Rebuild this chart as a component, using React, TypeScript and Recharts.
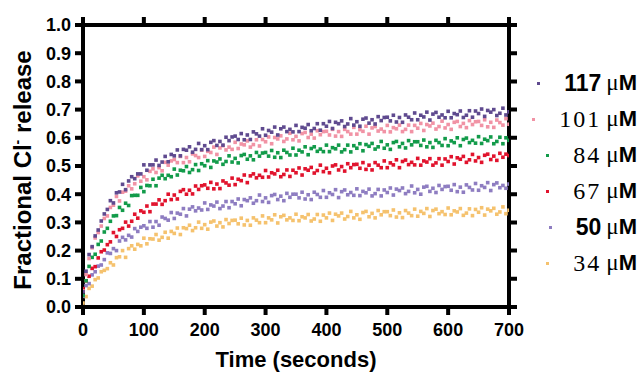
import React from "react";
import { Scatter, ScatterChart, XAxis, YAxis } from "recharts";

// sample times (s)
const times = [
  0, 5, 10, 15, 20, 25, 30, 35, 40, 45, 50, 55, 60, 65, 70, 75, 80, 85, 90, 95,
  100, 105, 110, 115, 120, 125, 130, 135, 140, 145, 150, 155, 160, 165, 170, 175, 180, 185, 190, 195,
  200, 205, 210, 215, 220, 225, 230, 235, 240, 245, 250, 255, 260, 265, 270, 275, 280, 285, 290, 295,
  300, 305, 310, 315, 320, 325, 330, 335, 340, 345, 350, 355, 360, 365, 370, 375, 380, 385, 390, 395,
  400, 405, 410, 415, 420, 425, 430, 435, 440, 445, 450, 455, 460, 465, 470, 475, 480, 485, 490, 495,
  500, 505, 510, 515, 520, 525, 530, 535, 540, 545, 550, 555, 560, 565, 570, 575, 580, 585, 590, 595,
  600, 605, 610, 615, 620, 625, 630, 635, 640, 645, 650, 655, 660, 665, 670, 675, 680, 685, 690, 695, 700,
];

const s117 = [
  0.054, 0.127, 0.186, 0.214, 0.252, 0.273, 0.305, 0.33, 0.346, 0.377,
  0.369, 0.405, 0.408, 0.435, 0.416, 0.447, 0.462, 0.455, 0.472, 0.472,
  0.504, 0.485, 0.504, 0.504, 0.521, 0.502, 0.514, 0.534, 0.515, 0.541,
  0.536, 0.557, 0.536, 0.559, 0.556, 0.568, 0.549, 0.559, 0.58, 0.558,
  0.572, 0.558, 0.584, 0.59, 0.573, 0.587, 0.574, 0.602, 0.59, 0.603,
  0.606, 0.594, 0.615, 0.593, 0.61, 0.594, 0.621, 0.614, 0.606, 0.632,
  0.609, 0.626, 0.62, 0.638, 0.61, 0.632, 0.638, 0.622, 0.63, 0.621,
  0.644, 0.622, 0.637, 0.634, 0.647, 0.625, 0.633, 0.65, 0.627, 0.65,
  0.641, 0.658, 0.633, 0.655, 0.65, 0.66, 0.64, 0.649, 0.668, 0.645,
  0.657, 0.641, 0.666, 0.67, 0.652, 0.664, 0.649, 0.675, 0.661, 0.672,
  0.673, 0.66, 0.68, 0.656, 0.672, 0.655, 0.681, 0.673, 0.664, 0.688,
  0.664, 0.68, 0.674, 0.691, 0.663, 0.684, 0.69, 0.673, 0.681, 0.671,
  0.694, 0.671, 0.686, 0.682, 0.695, 0.672, 0.68, 0.696, 0.673, 0.695,
  0.686, 0.702, 0.676, 0.697, 0.691, 0.7, 0.679, 0.687, 0.705, 0.681, 0.692,
];

const s101 = [
  0.057, 0.115, 0.172, 0.21, 0.245, 0.264, 0.287, 0.314, 0.323, 0.353,
  0.361, 0.392, 0.376, 0.407, 0.411, 0.43, 0.419, 0.437, 0.465, 0.446,
  0.462, 0.451, 0.481, 0.49, 0.477, 0.494, 0.483, 0.513, 0.503, 0.518,
  0.523, 0.512, 0.534, 0.512, 0.53, 0.515, 0.543, 0.537, 0.53, 0.556,
  0.534, 0.552, 0.548, 0.567, 0.541, 0.564, 0.572, 0.557, 0.567, 0.559,
  0.584, 0.562, 0.578, 0.575, 0.589, 0.567, 0.576, 0.593, 0.571, 0.594,
  0.586, 0.603, 0.579, 0.601, 0.596, 0.607, 0.587, 0.596, 0.616, 0.593,
  0.605, 0.589, 0.615, 0.619, 0.601, 0.613, 0.599, 0.625, 0.611, 0.622,
  0.623, 0.61, 0.63, 0.606, 0.622, 0.605, 0.63, 0.622, 0.613, 0.637,
  0.613, 0.629, 0.623, 0.641, 0.613, 0.635, 0.64, 0.624, 0.631, 0.622,
  0.644, 0.621, 0.636, 0.632, 0.645, 0.622, 0.63, 0.645, 0.622, 0.644,
  0.634, 0.651, 0.626, 0.647, 0.642, 0.652, 0.631, 0.64, 0.659, 0.635,
  0.647, 0.63, 0.655, 0.658, 0.64, 0.651, 0.636, 0.661, 0.647, 0.657,
  0.658, 0.644, 0.664, 0.639, 0.655, 0.637, 0.663, 0.654, 0.645, 0.668, 0.648,
];

const s84 = [
  0.041, 0.093, 0.144, 0.176, 0.187, 0.222, 0.234, 0.266, 0.279, 0.304,
  0.323, 0.324, 0.353, 0.343, 0.368, 0.36, 0.395, 0.396, 0.396, 0.424,
  0.409, 0.431, 0.43, 0.453, 0.43, 0.457, 0.467, 0.455, 0.467, 0.462,
  0.489, 0.468, 0.485, 0.483, 0.498, 0.477, 0.487, 0.505, 0.484, 0.508,
  0.501, 0.519, 0.495, 0.518, 0.514, 0.525, 0.506, 0.516, 0.536, 0.514,
  0.527, 0.511, 0.537, 0.541, 0.524, 0.536, 0.522, 0.548, 0.535, 0.546,
  0.548, 0.535, 0.555, 0.531, 0.547, 0.53, 0.556, 0.548, 0.539, 0.563,
  0.539, 0.556, 0.55, 0.568, 0.54, 0.562, 0.568, 0.552, 0.56, 0.551,
  0.574, 0.551, 0.565, 0.561, 0.574, 0.55, 0.558, 0.574, 0.55, 0.572,
  0.563, 0.579, 0.554, 0.576, 0.57, 0.58, 0.56, 0.568, 0.587, 0.563,
  0.575, 0.559, 0.583, 0.587, 0.568, 0.58, 0.564, 0.59, 0.575, 0.586,
  0.586, 0.573, 0.592, 0.568, 0.583, 0.566, 0.591, 0.583, 0.573, 0.597,
  0.572, 0.589, 0.583, 0.6, 0.572, 0.594, 0.599, 0.583, 0.591, 0.581,
  0.604, 0.58, 0.595, 0.59, 0.603, 0.579, 0.587, 0.602, 0.579, 0.6, 0.591,
];

const s67 = [
  0.065, 0.093, 0.109, 0.137, 0.143, 0.174, 0.196, 0.202, 0.221, 0.231,
  0.264, 0.25, 0.274, 0.279, 0.301, 0.287, 0.304, 0.329, 0.315, 0.341,
  0.336, 0.358, 0.338, 0.365, 0.365, 0.38, 0.364, 0.377, 0.4, 0.381,
  0.397, 0.383, 0.41, 0.416, 0.4, 0.414, 0.401, 0.429, 0.417, 0.43,
  0.433, 0.421, 0.442, 0.419, 0.436, 0.42, 0.447, 0.44, 0.432, 0.457,
  0.434, 0.453, 0.448, 0.468, 0.441, 0.465, 0.472, 0.458, 0.467, 0.46,
  0.484, 0.461, 0.476, 0.472, 0.485, 0.462, 0.47, 0.486, 0.463, 0.485,
  0.476, 0.493, 0.468, 0.49, 0.485, 0.495, 0.475, 0.484, 0.503, 0.48,
  0.492, 0.476, 0.5, 0.504, 0.486, 0.498, 0.482, 0.508, 0.494, 0.505,
  0.506, 0.492, 0.512, 0.488, 0.503, 0.486, 0.512, 0.503, 0.494, 0.518,
  0.494, 0.511, 0.504, 0.522, 0.494, 0.516, 0.521, 0.505, 0.513, 0.504,
  0.527, 0.503, 0.518, 0.514, 0.526, 0.503, 0.511, 0.526, 0.503, 0.525,
  0.516, 0.533, 0.507, 0.529, 0.524, 0.534, 0.513, 0.522, 0.541, 0.518,
  0.53, 0.513, 0.538, 0.542, 0.523, 0.535, 0.52, 0.545, 0.531, 0.542, 0.537,
];

const s50 = [
  0.038, 0.076, 0.083, 0.114, 0.125, 0.145, 0.149, 0.168, 0.192, 0.19,
  0.207, 0.2, 0.234, 0.247, 0.238, 0.254, 0.248, 0.278, 0.268, 0.283,
  0.288, 0.279, 0.303, 0.283, 0.303, 0.29, 0.319, 0.314, 0.308, 0.335,
  0.314, 0.333, 0.329, 0.349, 0.323, 0.347, 0.355, 0.341, 0.351, 0.344,
  0.369, 0.346, 0.362, 0.358, 0.372, 0.349, 0.358, 0.374, 0.352, 0.374,
  0.366, 0.383, 0.359, 0.381, 0.377, 0.387, 0.368, 0.377, 0.397, 0.374,
  0.387, 0.371, 0.395, 0.399, 0.381, 0.393, 0.377, 0.403, 0.389, 0.4,
  0.4, 0.387, 0.407, 0.383, 0.398, 0.381, 0.407, 0.399, 0.389, 0.413,
  0.389, 0.405, 0.399, 0.416, 0.388, 0.409, 0.415, 0.398, 0.406, 0.396,
  0.419, 0.395, 0.41, 0.405, 0.418, 0.394, 0.402, 0.417, 0.394, 0.415,
  0.406, 0.422, 0.397, 0.418, 0.413, 0.422, 0.402, 0.41, 0.429, 0.405,
  0.417, 0.4, 0.425, 0.428, 0.41, 0.421, 0.406, 0.431, 0.417, 0.427,
  0.428, 0.414, 0.434, 0.409, 0.425, 0.407, 0.433, 0.424, 0.415, 0.438,
  0.414, 0.43, 0.424, 0.441, 0.413, 0.434, 0.44, 0.423, 0.431, 0.421, 0.436,
];

const s34 = [
  0.014, 0.037, 0.066, 0.074, 0.097, 0.103, 0.125, 0.13, 0.136, 0.157,
  0.149, 0.175, 0.178, 0.2, 0.176, 0.207, 0.217, 0.205, 0.222, 0.217,
  0.244, 0.224, 0.242, 0.241, 0.257, 0.237, 0.247, 0.265, 0.244, 0.268,
  0.261, 0.28, 0.257, 0.281, 0.278, 0.29, 0.271, 0.281, 0.301, 0.279,
  0.292, 0.276, 0.301, 0.305, 0.287, 0.299, 0.284, 0.31, 0.296, 0.307,
  0.308, 0.295, 0.315, 0.291, 0.307, 0.29, 0.316, 0.308, 0.299, 0.323,
  0.299, 0.316, 0.309, 0.327, 0.298, 0.32, 0.325, 0.309, 0.316, 0.307,
  0.329, 0.306, 0.32, 0.316, 0.328, 0.305, 0.312, 0.328, 0.304, 0.326,
  0.316, 0.333, 0.307, 0.329, 0.323, 0.333, 0.312, 0.321, 0.339, 0.316,
  0.327, 0.311, 0.335, 0.339, 0.32, 0.332, 0.316, 0.342, 0.327, 0.338,
  0.338, 0.324, 0.344, 0.319, 0.334, 0.317, 0.342, 0.333, 0.324, 0.347,
  0.322, 0.339, 0.332, 0.349, 0.321, 0.342, 0.347, 0.331, 0.338, 0.328,
  0.351, 0.327, 0.341, 0.337, 0.349, 0.325, 0.333, 0.348, 0.324, 0.346,
  0.336, 0.352, 0.326, 0.347, 0.341, 0.35, 0.329, 0.337, 0.355, 0.331, 0.343,
];

const xTicks = [0, 100, 200, 300, 400, 500, 600, 700];
const yTicks = [0, 0.1, 0.2, 0.3, 0.4, 0.5, 0.6, 0.7, 0.8, 0.9, 1.0];

const SERIES = [
  { name: "34", values: s34, color: "#f5c26e", bold: false },
  { name: "50", values: s50, color: "#8e7dc1", bold: true },
  { name: "67", values: s67, color: "#e1132d", bold: false },
  { name: "84", values: s84, color: "#129b4a", bold: false },
  { name: "101", values: s101, color: "#f193a5", bold: false },
  { name: "117", values: s117, color: "#5f4a8f", bold: true },
];

const SANS = "'Liberation Sans', Arial, sans-serif";
const SERIF = "'Liberation Serif', 'Times New Roman', serif";

// plot box (px), shared by the chart margins and the frame edges
const BOX = { left: 83, top: 25, width: 426, height: 282 };
const W = 639;
const H = 375;

const Dot = (props: any) => {
  const { cx, cy, fill } = props;
  if (cx == null || cy == null) return <g />;
  return <rect x={cx - 1.8} y={cy - 1.8} width={3.6} height={3.6} fill={fill} />;
};

const tickStyle = { fontFamily: SANS, fontWeight: 700, fontSize: 18, fill: "#000" };
const axisLine = { stroke: "#000", strokeWidth: 4 };
const tickLine = { stroke: "#000", strokeWidth: 4 };

export default function App() {
  const legendRows = [...SERIES].reverse();
  const right = BOX.left + BOX.width;
  const bottom = BOX.top + BOX.height;
  return (
    <div style={{ position: "absolute", left: 0, top: 0, width: W, height: H, background: "#fff" }}>
      <ScatterChart
        width={W}
        height={H}
        margin={{ top: BOX.top, right: W - right, bottom: H - bottom - 30, left: BOX.left - 60 }}
      >
        <XAxis
          type="number"
          dataKey="x"
          domain={[0, 700]}
          ticks={xTicks}
          allowDataOverflow
          height={30}
          tickSize={8}
          tickMargin={8}
          axisLine={axisLine}
          tickLine={tickLine}
          tick={tickStyle}
        />
        <YAxis
          type="number"
          dataKey="y"
          domain={[0, 1]}
          ticks={yTicks}
          allowDataOverflow
          width={60}
          tickSize={8}
          tickMargin={4}
          axisLine={axisLine}
          tickLine={tickLine}
          tick={tickStyle}
          tickFormatter={(v: number) => v.toFixed(1)}
        />
        {SERIES.map((s) => (
          <Scatter
            key={s.name}
            data={times.map((t, i) => ({ x: t, y: s.values[i] }))}
            fill={s.color}
            shape={<Dot />}
            isAnimationActive={false}
          />
        ))}
        {/* top and right edges of the box, ticks pointing outward */}
        <path
          d={
            `M${BOX.left - 2},${BOX.top}H${right + 2}M${right},${BOX.top - 2}V${bottom + 2}` +
            xTicks.map((t) => `M${BOX.left + (t / 700) * BOX.width},${BOX.top}v-8`).join("") +
            yTicks.map((v) => `M${right},${bottom - v * BOX.height}h8`).join("")
          }
          stroke="#000"
          strokeWidth={4}
          fill="none"
        />
        <text
          x={0}
          y={0}
          transform="translate(31,170) rotate(-90)"
          textAnchor="middle"
          style={{ fontFamily: SANS, fontWeight: 700, fontSize: 24, fill: "#000" }}
        >
          Fractional Cl<tspan dy={-9} fontSize={14}>-</tspan>
          <tspan dy={9}> release</tspan>
        </text>
        <text
          x={296}
          y={367}
          textAnchor="middle"
          style={{ fontFamily: SANS, fontWeight: 700, fontSize: 22, fill: "#000" }}
        >
          Time (seconds)
        </text>
      </ScatterChart>
      {legendRows.map((s, i) => (
        <div
          key={s.name}
          style={{
            position: "absolute",
            right: 2,
            top: 70 + i * 36,
            height: 26,
            display: "flex",
            alignItems: "center",
            whiteSpace: "nowrap",
          }}
        >
          <span style={{ width: 3, height: 3, background: s.color, marginRight: 24 }} />
          <span
            style={
              s.bold
                ? { fontFamily: SANS, fontWeight: 700, fontSize: 23 }
                : { fontFamily: SERIF, fontSize: 24, letterSpacing: 2 }
            }
          >
            {s.name}
          </span>
          <span style={{ fontFamily: SERIF, fontSize: 23, marginLeft: 5 }}>μ</span>
          <span style={{ fontFamily: SANS, fontWeight: 700, fontSize: 22 }}>M</span>
        </div>
      ))}
    </div>
  );
}
